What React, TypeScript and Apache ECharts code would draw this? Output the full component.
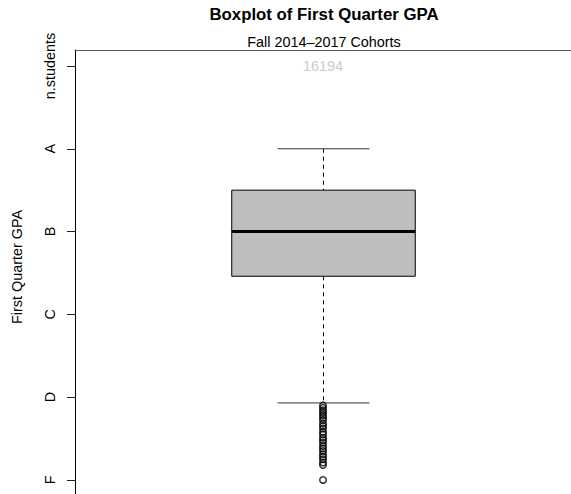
import React, { useEffect, useRef } from "react";
import * as echarts from "echarts";

const categories = ["First Quarter GPA"];
// [lower whisker, Q1, median, Q3, upper whisker]
const boxStats = [0.93, 2.46, 3.0, 3.5, 4.0];
const outliers = [
  0.9, 0.87, 0.84, 0.81, 0.78, 0.75, 0.72, 0.68, 0.65, 0.62, 0.58, 0.55, 0.51, 0.48,
  0.45, 0.41, 0.38, 0.35, 0.31, 0.28, 0.25, 0.21, 0.18, 0.0,
];
const yTickValues = [0, 1, 2, 3, 4, 5];
const yTickLabels = ["F", "D", "C", "B", "A", "n.students"];
const nStudents = [16194];

const FONT = "'Liberation Sans', Arial, Helvetica, sans-serif";

export default function App() {
  const ref = useRef<HTMLDivElement>(null);
  useEffect(() => {
    if (!ref.current) return;
    const chart = echarts.init(ref.current, null, { renderer: "svg" });
    const option: any = {
      animation: false,
      backgroundColor: "#ffffff",
      textStyle: { fontFamily: FONT },
      grid: {
        show: false,
        left: 75,
        top: 50,
        width: 498,
        bottom: 0,
      },
      xAxis: {
        type: "category",
        data: categories,
        position: "top",
        boundaryGap: true,
        axisLine: { show: true, onZero: false, lineStyle: { color: "#555", width: 1 } },
        axisTick: { show: false },
        axisLabel: { show: false },
        splitLine: { show: false },
      },
      yAxis: {
        type: "value",
        min: -0.17,
        max: 5.193,
        splitLine: { show: false },
        axisLine: { show: true, onZero: false, lineStyle: { color: "#000", width: 1 } },
        axisTick: {
          show: true,
          length: 8,
          customValues: yTickValues,
          lineStyle: { color: "#222", width: 1 },
        },
        axisLabel: {
          customValues: yTickValues,
          formatter: (v: number) => {
            const i = yTickValues.indexOf(Math.round(v));
            return i >= 0 ? yTickLabels[i] : "";
          },
          rotate: 90,
          margin: 18,
          fontSize: 14.4,
          color: "#000",
          fontFamily: FONT,
          hideOverlap: false,
        },
      },
      graphic: [
        {
          type: "text",
          x: 324,
          y: 14,
          style: {
            text: "Boxplot of First Quarter GPA",
            font: `bold 16.8px ${FONT}`,
            fill: "#000",
            align: "center",
            verticalAlign: "middle",
          },
        },
        {
          type: "text",
          x: 324,
          y: 41.5,
          style: {
            text: "Fall 2014\u20132017 Cohorts",
            font: `14.4px ${FONT}`,
            fill: "#000",
            align: "center",
            verticalAlign: "middle",
          },
        },
        {
          type: "text",
          x: 17,
          y: 267,
          rotation: Math.PI / 2,
          style: {
            text: "First Quarter GPA",
            font: `14.4px ${FONT}`,
            fill: "#000",
            align: "center",
            verticalAlign: "middle",
          },
        },
      ],
      series: [
        {
          type: "custom",
          data: [[0, ...boxStats]],
          renderItem: (params: any, api: any) => {
            const band = api.size([1, 0])[0];
            const boxW = band * 0.37;
            const capW = band * 0.185;
            const lo = api.coord([0, api.value(1)]);
            const q1 = api.coord([0, api.value(2)]);
            const md = api.coord([0, api.value(3)]);
            const q3 = api.coord([0, api.value(4)]);
            const hi = api.coord([0, api.value(5)]);
            const cx = Math.round(lo[0]) + 0.5;
            return {
              type: "group",
              children: [
                {
                  type: "line",
                  shape: { x1: cx, y1: hi[1], x2: cx, y2: q3[1] },
                  style: { stroke: "#000", lineWidth: 1, lineDash: [4, 4] },
                },
                {
                  type: "line",
                  shape: { x1: cx, y1: q1[1], x2: cx, y2: lo[1] },
                  style: { stroke: "#000", lineWidth: 1, lineDash: [4, 4] },
                },
                {
                  type: "line",
                  shape: { x1: cx - capW / 2, y1: hi[1], x2: cx + capW / 2, y2: hi[1] },
                  style: { stroke: "#333", lineWidth: 1 },
                },
                {
                  type: "line",
                  shape: { x1: cx - capW / 2, y1: lo[1], x2: cx + capW / 2, y2: lo[1] },
                  style: { stroke: "#333", lineWidth: 1 },
                },
                {
                  type: "rect",
                  shape: { x: cx - boxW / 2, y: q3[1], width: boxW, height: q1[1] - q3[1] },
                  style: { fill: "#bebebe", stroke: "#000", lineWidth: 1 },
                },
                {
                  type: "line",
                  shape: { x1: cx - boxW / 2, y1: md[1], x2: cx + boxW / 2, y2: md[1] },
                  style: { stroke: "#000", lineWidth: 3 },
                },
              ],
            };
          },
          z: 2,
        },
        {
          type: "scatter",
          data: outliers.map((v) => [0, v]),
          symbol: "circle",
          symbolSize: 6.5,
          itemStyle: { color: "transparent", borderColor: "#000", borderWidth: 1.5 },
          z: 3,
        },
        {
          type: "scatter",
          data: nStudents.map((n) => [0, 5, n]),
          symbolSize: 0,
          label: {
            show: true,
            position: "inside",
            formatter: (p: any) => String(p.value[2]),
            color: "#bdbdbd",
            fontSize: 14.4,
            fontFamily: FONT,
          },
          z: 3,
        },
      ],
    };
    chart.setOption(option);
    return () => chart.dispose();
  }, []);
  return (
    <div
      ref={ref}
      style={{ position: "absolute", left: 0, top: 0, width: 571, height: 494 }}
    />
  );
}
